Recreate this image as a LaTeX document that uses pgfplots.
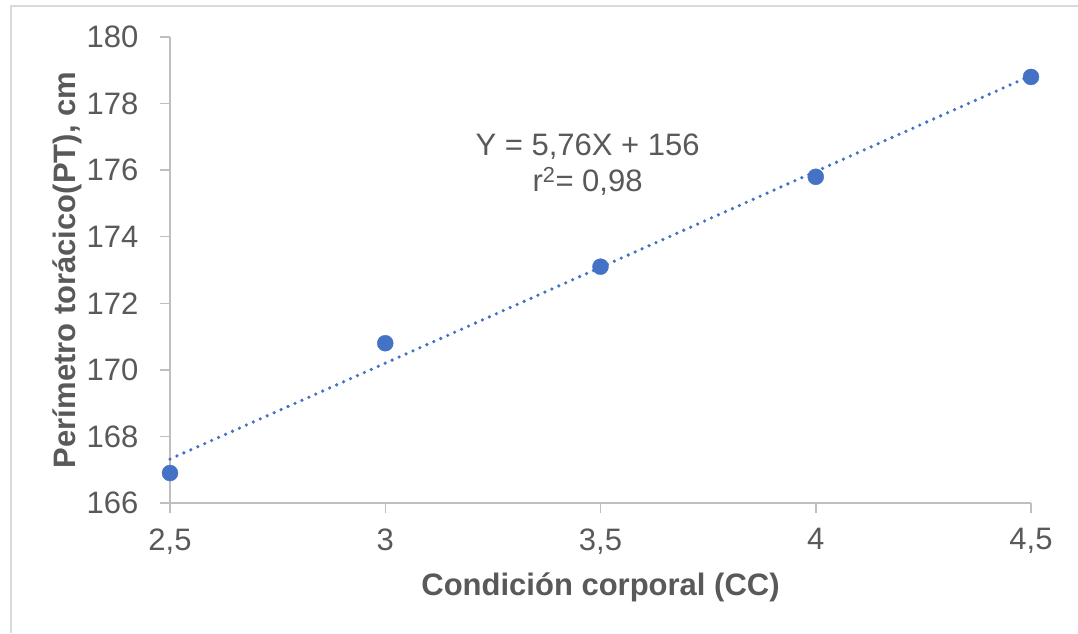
\documentclass[border=0pt]{standalone}
\usepackage{pgfplots}
\pgfplotsset{compat=1.18}
\usepackage{fontspec}
\setmainfont{Liberation Sans}
\definecolor{txt}{HTML}{595959}
\definecolor{axc}{HTML}{BFBFBF}
\definecolor{ptc}{HTML}{4472C4}
\begin{document}
\begin{tikzpicture}[x=1pt,y=1pt]
\path[use as bounding box] (0,0) rectangle (1078,633);
\draw[color=black!15, line width=1.5pt] (11,0) -- (11,627) -- (1078,627);
\begin{axis}[at={(170pt,130pt)}, anchor=south west, scale only axis,
  width=861pt, height=466pt,
  xmin=2.5, xmax=4.5, ymin=166, ymax=180,
  axis lines*=left,
  xtick={2.5,3,3.5,4,4.5}, xticklabels={{2,5},3,{3,5},4,{4,5}},
  ytick={166,168,...,180},
  /pgf/number format/assume math mode=true,
  /pgf/number format/1000 sep={},
  tick align=outside, major tick length=10pt,
  tick style={axc, line width=1.5pt},
  axis line style={axc, line width=1.5pt},
  ticklabel style={font=\fontsize{31}{36}\selectfont, text=txt},
  xticklabel style={yshift=-12pt},
  yticklabel style={xshift=-18pt},
  xlabel={\textbf{Condición corporal (CC)}},
  ylabel={\textbf{Perímetro torácico(PT), cm}},
  label style={font=\fontsize{31}{36}\selectfont, text=txt},
  xlabel style={at={(axis description cs:0.5,0)}, anchor=north, yshift=-66pt},
  ylabel style={at={(axis description cs:0,0.5)}, anchor=south, yshift=85pt},
  clip=false,
]
\addplot[ptc, line width=3.6pt, dash pattern=on 0pt off 7.6pt, line cap=round]
  coordinates {(2.5,167.32) (4.5,178.84)};
\addplot[only marks, mark=*, mark size=8pt, ptc, mark options={draw=ptc, fill=ptc}]
  coordinates {(2.5,166.9) (3,170.8) (3.5,173.1) (4,175.8) (4.5,178.8)};
\node[txt, font=\fontsize{31}{36}\selectfont, align=center] at (axis cs:3.47,176.15)
  {Y = 5,76X + 156\\r\textsuperscript{2}= 0,98};
\end{axis}
\end{tikzpicture}
\end{document}
